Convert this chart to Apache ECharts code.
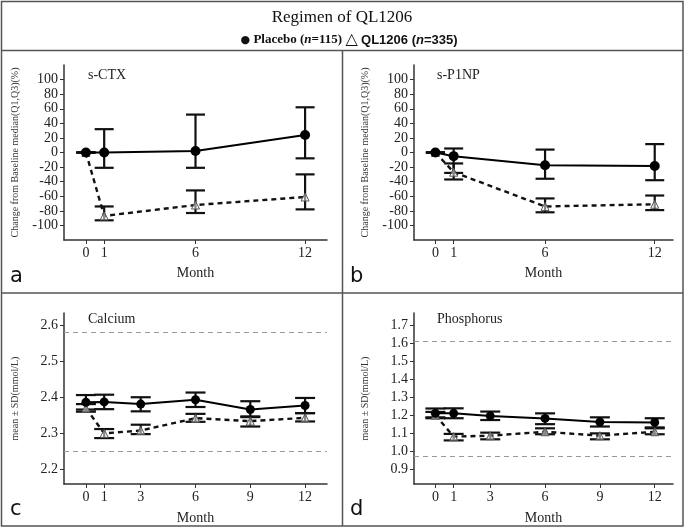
<!DOCTYPE html>
<html>
<head>
<meta charset="utf-8">
<script src="https://cdn.jsdelivr.net/npm/echarts@6/dist/echarts.min.js"></script>
<style>html,body{margin:0;padding:0;background:#fff}#c{width:685px;height:528px}</style>
</head>
<body>
<div id="c"></div>
<script>
// ---- Data ----
const monthsAB = [0, 1, 6, 12];
const monthsCD = [0, 1, 3, 6, 9, 12];

// Panel a: s-CTX (median, Q1, Q3)
const ctxPlacebo = [0, 0, 2, 24];
const ctxPlaceboQ1 = [0, -21, -21, -8];
const ctxPlaceboQ3 = [0, 32, 52, 62];
const ctxQL = [0, -87, -72, -61];
const ctxQLQ1 = [0, -93, -83, -78];
const ctxQLQ3 = [0, -74, -52, -30];

// Panel b: s-P1NP
const pnpPlacebo = [0, -5, -17.5, -18.5];
const pnpPlaceboQ1 = [0, -28, -36, -38];
const pnpPlaceboQ3 = [0, 5.5, 4, 11.5];
const pnpQL = [0, -27, -74, -71];
const pnpQLQ1 = [0, -37, -82, -79];
const pnpQLQ3 = [0, -15, -63, -59];

// Panel c: Calcium (mean, low, high)
const caPlacebo = [2.386, 2.387, 2.381, 2.393, 2.366, 2.377];
const caPlaceboLo = [2.366, 2.367, 2.361, 2.373, 2.347, 2.356];
const caPlaceboHi = [2.406, 2.407, 2.400, 2.413, 2.389, 2.398];
const caQL = [2.370, 2.300, 2.308, 2.342, 2.334, 2.343];
const caQLLo = [2.360, 2.287, 2.298, 2.332, 2.319, 2.333];
const caQLHi = [2.381, 2.312, 2.324, 2.354, 2.345, 2.356];
const caRef = [2.25, 2.58];

// Panel d: Phosphorus
const pPlacebo = [1.210, 1.210, 1.196, 1.182, 1.162, 1.160];
const pPlaceboLo = [1.183, 1.183, 1.173, 1.150, 1.137, 1.132];
const pPlaceboHi = [1.237, 1.238, 1.220, 1.210, 1.188, 1.183];
const pQL = [1.200, 1.081, 1.086, 1.108, 1.086, 1.108];
const pQLLo = [1.188, 1.060, 1.066, 1.094, 1.066, 1.094];
const pQLHi = [1.218, 1.096, 1.103, 1.127, 1.099, 1.127];
const pRef = [0.97, 1.61];

const ticksAB = [-100, -80, -60, -40, -20, 0, 20, 40, 60, 80, 100];
const ticksCa = [2.2, 2.3, 2.4, 2.5, 2.6];
const ticksP = [0.9, 1.0, 1.1, 1.2, 1.3, 1.4, 1.5, 1.6, 1.7];

// ---- Helpers ----
const SERIF = 'Liberation Serif';
const AX = '#333';
function zip(xs, a) { return xs.map((x, i) => [x, a[i]]); }
function zip3(xs, a, b) { return xs.map((x, i) => [x, a[i], b[i]]); }

function errSeries(idx, xs, lo, hi, hw) {
  return {
    type: 'custom', xAxisIndex: idx, yAxisIndex: idx, z: 2, silent: true,
    encode: { x: 0, y: [1, 2] },
    data: zip3(xs, lo, hi),
    renderItem: function (params, api) {
      const x = api.value(0);
      const p1 = api.coord([x, api.value(1)]);
      const p2 = api.coord([x, api.value(2)]);
      const st = { stroke: '#111', lineWidth: 2.2 };
      return { type: 'group', children: [
        { type: 'line', shape: { x1: p1[0], y1: p1[1], x2: p2[0], y2: p2[1] }, style: st },
        { type: 'line', shape: { x1: p1[0] - hw, y1: p1[1], x2: p1[0] + hw, y2: p1[1] }, style: st },
        { type: 'line', shape: { x1: p2[0] - hw, y1: p2[1], x2: p2[0] + hw, y2: p2[1] }, style: st }
      ]};
    }
  };
}
function placeboLine(idx, xs, ys, size) {
  return {
    type: 'line', xAxisIndex: idx, yAxisIndex: idx, z: 4, silent: true,
    data: zip(xs, ys), symbol: 'circle', symbolSize: size,
    itemStyle: { color: '#000' }, lineStyle: { color: '#000', width: 2 }
  };
}
function qlLine(idx, xs, ys, refs, refStart) {
  const s = {
    type: 'line', xAxisIndex: idx, yAxisIndex: idx, z: 3, silent: true,
    data: zip(xs, ys), symbol: 'triangle', symbolSize: 8,
    itemStyle: { color: 'rgba(255,255,255,0.5)', borderColor: '#555', borderWidth: 1 },
    lineStyle: { color: '#111', width: 2.4, type: [5, 4] }
  };
  s.markLine = {
    silent: true, symbol: 'none', z: 1, animation: false,
    label: { show: false },
    lineStyle: { color: '#999', width: 1, type: [5, 4] },
    data: refs.map(v => refStart == null ? { yAxis: v } : [{ coord: [refStart, v] }, { coord: [13.3, v] }])
  };
  return s;
}
function xAxisCfg(idx, min, max, labels, gap) {
  return {
    type: 'value', gridIndex: idx, min: min, max: max,
    name: 'Month', nameLocation: 'middle', nameGap: gap,
    nameTextStyle: { fontFamily: SERIF, fontSize: 14, color: '#222' },
    axisLine: { onZero: false, lineStyle: { color: AX, width: 1.5 } },
    axisTick: { show: true, length: 4, customValues: labels, lineStyle: { color: AX } },
    axisLabel: { customValues: labels, fontFamily: SERIF, fontSize: 14, color: '#222', margin: 6 },
    splitLine: { show: false }
  };
}
function yAxisCfg(idx, min, max, labels, name, dec) {
  return {
    type: 'value', gridIndex: idx, min: min, max: max,
    name: name, nameLocation: 'middle', nameGap: 44,
    nameTextStyle: { fontFamily: SERIF, fontSize: 10, color: '#333' },
    axisLine: { show: true, onZero: false, lineStyle: { color: AX, width: 1.5 } },
    axisTick: { show: true, length: 4, customValues: labels, lineStyle: { color: AX } },
    axisLabel: { customValues: labels, fontFamily: SERIF, fontSize: 14, color: '#222', margin: 6,
      formatter: v => dec ? Number(v).toFixed(dec) : String(Math.round(v)) },
    splitLine: { show: false }
  };
}

const chart = echarts.init(document.getElementById('c'), null, { renderer: 'canvas' });

const nameAB = 'Change from Baseline median(Q1,Q3)(%)';
const nameCD = 'mean \u00b1 SD(mmol/L)';

const option = {
  animation: false,
  backgroundColor: '#fff',
  grid: [
    { left: 64, top: 65, width: 263, height: 175 },
    { left: 414, top: 65, width: 259, height: 175 },
    { left: 64, top: 313, width: 263, height: 171 },
    { left: 414, top: 313, width: 259, height: 171 }
  ],
  xAxis: [
    xAxisCfg(0, -1.2, 13.2, monthsAB, 26),
    xAxisCfg(1, -1.17, 13.0, monthsAB, 26),
    xAxisCfg(2, -1.2, 13.2, monthsCD, 27),
    xAxisCfg(3, -1.17, 13.0, monthsCD, 27)
  ],
  yAxis: [
    yAxisCfg(0, -120, 120, ticksAB, nameAB, 0),
    yAxisCfg(1, -120, 120, ticksAB, nameAB, 0),
    yAxisCfg(2, 2.16, 2.633, ticksCa, nameCD, 1),
    yAxisCfg(3, 0.818, 1.767, ticksP, nameCD, 1)
  ],
  series: [
    errSeries(0, monthsAB, ctxPlaceboQ1, ctxPlaceboQ3, 9.5),
    errSeries(0, monthsAB, ctxQLQ1, ctxQLQ3, 9.5),
    qlLine(0, monthsAB, ctxQL, [0], -0.65),
    placeboLine(0, monthsAB, ctxPlacebo, 10),

    errSeries(1, monthsAB, pnpPlaceboQ1, pnpPlaceboQ3, 9.5),
    errSeries(1, monthsAB, pnpQLQ1, pnpQLQ3, 9.5),
    qlLine(1, monthsAB, pnpQL, [0], -0.6),
    placeboLine(1, monthsAB, pnpPlacebo, 10),

    errSeries(2, monthsCD, caPlaceboLo, caPlaceboHi, 10),
    errSeries(2, monthsCD, caQLLo, caQLHi, 10),
    qlLine(2, monthsCD, caQL, caRef, null),
    placeboLine(2, monthsCD, caPlacebo, 9),

    errSeries(3, monthsCD, pPlaceboLo, pPlaceboHi, 10),
    errSeries(3, monthsCD, pQLLo, pQLHi, 10),
    qlLine(3, monthsCD, pQL, pRef, null),
    placeboLine(3, monthsCD, pPlacebo, 9)
  ],
  graphic: [
    // frames
    { type: 'rect', shape: { x: 1.5, y: 1.5, width: 681.5, height: 524.5 }, style: { fill: 'none', stroke: '#555', lineWidth: 1.5 }, silent: true },
    { type: 'line', shape: { x1: 1, y1: 50.5, x2: 683, y2: 50.5 }, style: { stroke: '#555', lineWidth: 1.5 }, silent: true },
    { type: 'line', shape: { x1: 342.5, y1: 50, x2: 342.5, y2: 526 }, style: { stroke: '#555', lineWidth: 1.5 }, silent: true },
    { type: 'line', shape: { x1: 1, y1: 293, x2: 683, y2: 293 }, style: { stroke: '#555', lineWidth: 1.5 }, silent: true },
    // title
    { type: 'text', x: 342, y: 18, style: { text: 'Regimen of QL1206', font: '17px "Liberation Serif"', fill: '#111', align: 'center', verticalAlign: 'middle' } },
    { type: 'text', x: 349, y: 40, style: {
      text: '{dot|\u25cf} {pb|Placebo (}{pbi|n}{pb|=115)} {tri|\u25b3} {ql|QL1206 (}{qli|n}{ql|=335)}',
      align: 'center', verticalAlign: 'middle',
      rich: {
        dot: { font: '11px "DejaVu Sans"', fill: '#111' },
        pb: { font: 'bold 13px "Liberation Serif"', fill: '#111' },
        pbi: { font: 'italic bold 13px "Liberation Serif"', fill: '#111' },
        tri: { font: '16px "DejaVu Sans"', fill: '#111' },
        ql: { font: 'bold 13px "Liberation Sans"', fill: '#111' },
        qli: { font: 'italic bold 13px "Liberation Sans"', fill: '#111' }
      } } },
    // panel titles
    { type: 'text', x: 88, y: 75, style: { text: 's-CTX', font: '14px "Liberation Serif"', fill: '#222', verticalAlign: 'middle' } },
    { type: 'text', x: 437, y: 75, style: { text: 's-P1NP', font: '14px "Liberation Serif"', fill: '#222', verticalAlign: 'middle' } },
    { type: 'text', x: 88, y: 319, style: { text: 'Calcium', font: '14px "Liberation Serif"', fill: '#222', verticalAlign: 'middle' } },
    { type: 'text', x: 437, y: 319, style: { text: 'Phosphorus', font: '14px "Liberation Serif"', fill: '#222', verticalAlign: 'middle' } },
    // panel letters
    { type: 'text', x: 10, y: 277, style: { text: 'a', font: '21px "DejaVu Sans"', fill: '#111', verticalAlign: 'middle' } },
    { type: 'text', x: 350, y: 277, style: { text: 'b', font: '21px "DejaVu Sans"', fill: '#111', verticalAlign: 'middle' } },
    { type: 'text', x: 10, y: 510, style: { text: 'c', font: '21px "DejaVu Sans"', fill: '#111', verticalAlign: 'middle' } },
    { type: 'text', x: 350, y: 510, style: { text: 'd', font: '21px "DejaVu Sans"', fill: '#111', verticalAlign: 'middle' } }
  ]
};
chart.setOption(option);
</script>
</body>
</html>
